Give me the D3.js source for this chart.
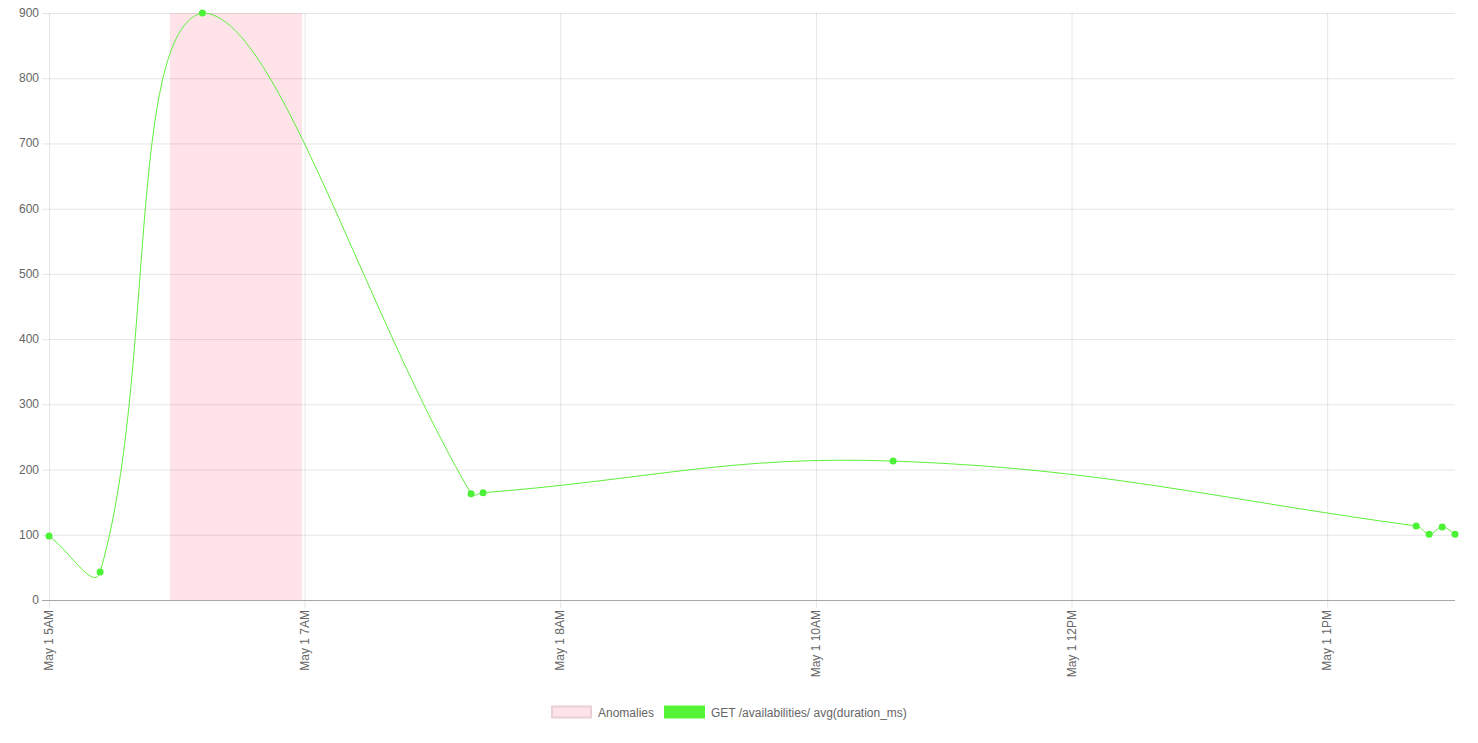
<!DOCTYPE html>
<html><head><meta charset="utf-8">
<script src="https://cdn.jsdelivr.net/npm/d3@7"></script>
<style>body{margin:0;background:#fff;}svg{display:block;font-family:"Liberation Sans",Arial,Helvetica,sans-serif;}</style>
</head><body>
<svg id="c" width="1478" height="743"></svg>
<script>
// x positions expressed in tick-interval units (tick i at i)
const tickLabels = ["May 1 5AM","May 1 7AM","May 1 8AM","May 1 10AM","May 1 12PM","May 1 1PM"];
const tickPos = [0,1,2,3,4,5];
const seriesX = [0, 0.2, 0.6, 1.651, 1.698, 3.302, 5.348, 5.399, 5.45, 5.5];
const seriesY = [98, 43, 900, 163, 164.5, 213, 113.5, 101, 112, 101];
const anomalyRange = [0.473, 0.99];
const yTicks = [0,100,200,300,400,500,600,700,800,900];
const seriesName = "GET /availabilities/ avg(duration_ms)";
const anomalyName = "Anomalies";

const L=49, R=1455, T=13, B=600;
const svg = d3.select("#c");
const x = d3.scaleLinear().domain([0,5.5]).range([L,R]);
const y = d3.scaleLinear().domain([0,900]).range([B,T]);

// anomalies band
svg.append("rect").attr("x",x(anomalyRange[0])).attr("y",y(900))
  .attr("width",x(anomalyRange[1])-x(anomalyRange[0])).attr("height",y(0)-y(900))
  .attr("fill","#fee4e8");

// grid
const g = svg.append("g");
yTicks.forEach(v=>{
  g.append("line").attr("x1",L-7).attr("x2",R).attr("y1",y(v)+0.5).attr("y2",y(v)+0.5)
   .attr("stroke", v===0 ? "#a8a8a8" : "rgba(0,0,0,0.1)").attr("stroke-width",1);
  g.append("text").attr("x",L-10).attr("y",y(v)+4).attr("text-anchor","end")
   .attr("font-size",12).attr("fill","#666").text(v);
});
tickPos.forEach((v,i)=>{
  g.append("line").attr("x1",x(v)+0.5).attr("x2",x(v)+0.5).attr("y1",T).attr("y2",B+8)
   .attr("stroke", "rgba(0,0,0,0.1)").attr("stroke-width",1);
  g.append("text").attr("transform",`translate(${x(v)+4},${B+10}) rotate(-90)`)
   .attr("text-anchor","end").attr("font-size",12).attr("fill","#666").text(tickLabels[i]);
});
// redraw baseline over vertical grid
g.append("line").attr("x1",L).attr("x2",R).attr("y1",B+0.5).attr("y2",B+0.5).attr("stroke","#a8a8a8");

// Chart.js-style spline
const pts = seriesX.map((d,i)=>({x:x(d), y:y(seriesY[i])}));
const t = 0.4;
pts.forEach((p,i)=>{
  const prev = i>0 ? pts[i-1] : p, next = i<pts.length-1 ? pts[i+1] : p;
  const d01 = Math.hypot(p.x-prev.x,p.y-prev.y), d12 = Math.hypot(next.x-p.x,next.y-p.y);
  let s01 = d01/(d01+d12), s12 = d12/(d01+d12);
  if(isNaN(s01)) s01=0; if(isNaN(s12)) s12=0;
  const fa=t*s01, fb=t*s12;
  p.cpx1 = p.x - fa*(next.x-prev.x); p.cpy1 = p.y - fa*(next.y-prev.y);
  p.cpx2 = p.x + fb*(next.x-prev.x); p.cpy2 = p.y + fb*(next.y-prev.y);
  const cap=(v,a,b)=>Math.max(a,Math.min(b,v));
  p.cpx1=cap(p.cpx1,L,R); p.cpx2=cap(p.cpx2,L,R);
  p.cpy1=cap(p.cpy1,T,B); p.cpy2=cap(p.cpy2,T,B);
});
const path = d3.path();
path.moveTo(pts[0].x,pts[0].y);
for(let i=0;i<pts.length-1;i++){
  const a=pts[i], b=pts[i+1];
  path.bezierCurveTo(a.cpx2,a.cpy2,b.cpx1,b.cpy1,b.x,b.y);
}
svg.append("path").attr("d",path.toString()).attr("fill","none")
  .attr("stroke","#5ef03a").attr("stroke-width",1);
svg.selectAll("circle.pt").data(pts).join("circle").attr("class","pt")
  .attr("cx",d=>d.x).attr("cy",d=>d.y).attr("r",3.5).attr("fill","#4cf235");

// legend
const lg = svg.append("g");
lg.append("rect").attr("x",552).attr("y",706.5).attr("width",39).attr("height",11)
  .attr("fill","#fee4e8").attr("stroke","#ead0d4").attr("stroke-width",2);
lg.append("text").attr("x",598).attr("y",717).attr("font-size",12).attr("fill","#666").text(anomalyName);
lg.append("rect").attr("x",664).attr("y",705.5).attr("width",41).attr("height",13).attr("fill","#55f535");
lg.append("text").attr("x",711).attr("y",717).attr("font-size",12).attr("fill","#666").text(seriesName);
</script>
</body></html>
